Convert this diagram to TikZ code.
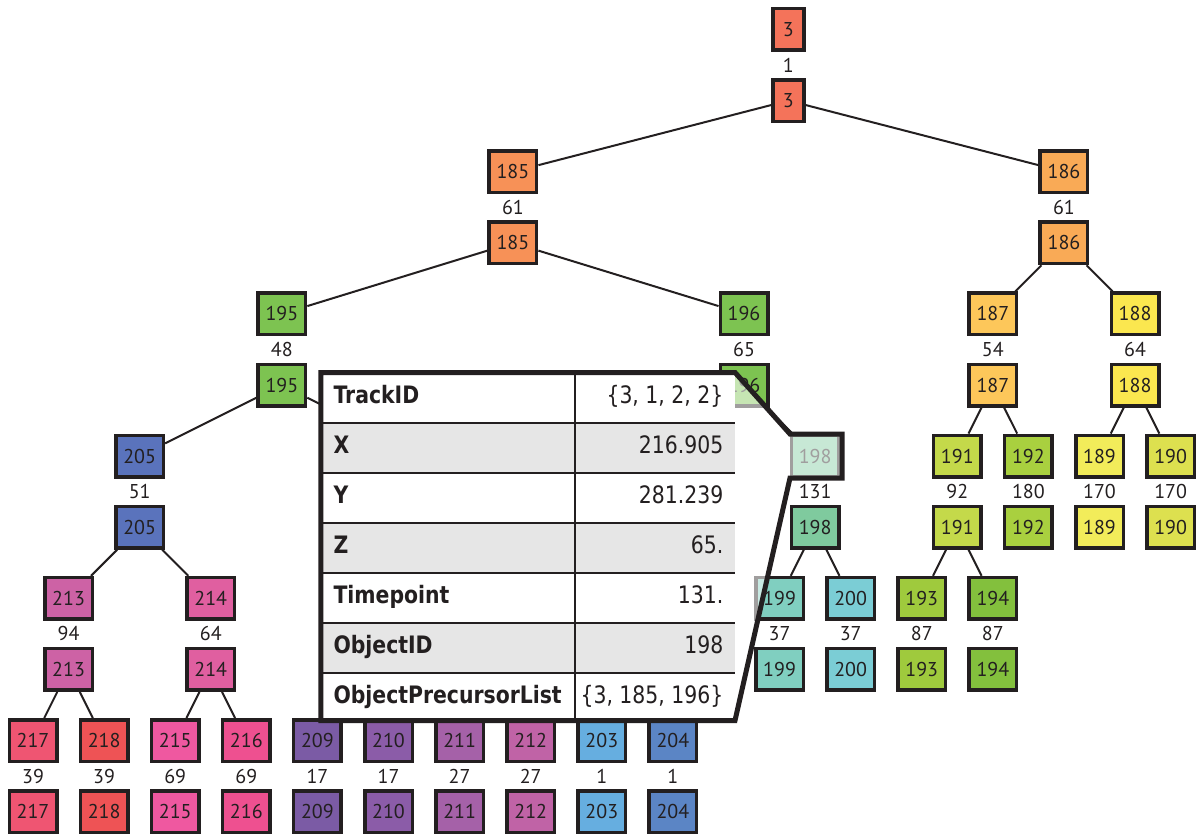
\documentclass[tikz,border=0pt]{standalone}
\usepackage{fontspec}
\setmainfont{PT Sans}
\newfontfamily\tabfont[FakeStretch=0.85]{DejaVu Sans}

\definecolor{ink}{HTML}{231F20}
\definecolor{rowgray}{HTML}{E6E6E6}
\definecolor{c3}{HTML}{F4735A}
\definecolor{c185}{HTML}{F79157}
\definecolor{c186}{HTML}{F9AA56}
\definecolor{c195}{HTML}{7DC351}
\definecolor{c187}{HTML}{FDC75A}
\definecolor{c188}{HTML}{FBE74F}
\definecolor{c191}{HTML}{C4D94A}
\definecolor{c192}{HTML}{A9D03F}
\definecolor{c189}{HTML}{F2EC5A}
\definecolor{c190}{HTML}{DDE04F}
\definecolor{c198}{HTML}{7FCA9E}
\definecolor{c199}{HTML}{80CFC0}
\definecolor{c200}{HTML}{7BCDD5}
\definecolor{c193}{HTML}{9FCA3D}
\definecolor{c194}{HTML}{83C03D}
\definecolor{c205}{HTML}{5A73BC}
\definecolor{c213}{HTML}{CD62A5}
\definecolor{c214}{HTML}{E05FA0}
\definecolor{c217}{HTML}{EF5572}
\definecolor{c218}{HTML}{EE5355}
\definecolor{c215}{HTML}{EF58A0}
\definecolor{c216}{HTML}{EE5090}
\definecolor{c209}{HTML}{7B5BA5}
\definecolor{c210}{HTML}{8B5CA8}
\definecolor{c211}{HTML}{A561A8}
\definecolor{c212}{HTML}{C063A6}
\definecolor{c203}{HTML}{66AEE0}
\definecolor{c204}{HTML}{5B85C5}

\tikzset{
  trackbox/.style={draw=ink, line width=3.5pt, minimum width=47.5pt,
    minimum height=41.5pt, inner sep=0pt, text=ink,
    font=\fontsize{20}{20}\selectfont},
  narrowbox/.style={minimum width=30.8pt},
  durlbl/.style={inner sep=0pt, text=ink, font=\fontsize{20}{20}\selectfont},
  link/.style={draw=ink, line width=2pt},
  keytext/.style={inner sep=0pt, anchor=base west, text=ink,
    font=\tabfont\bfseries\fontsize{24}{24}\selectfont},
  valtext/.style={inner sep=0pt, anchor=base east, text=ink,
    font=\tabfont\fontsize{24}{24}\selectfont},
  rule/.style={draw=ink, line width=2pt},
}

% one track segment: start box, duration, end box
% #1 extra style, #2 id, #3 column slot, #4 row of start box, #5 duration, #6 colour
\newcommand\trackpair[6][]{%
  \node[trackbox, fill=#6, #1] (t#2a) at ({33+35.55*#3}, {29.5+71.1*#4}) {#2};
  \node[trackbox, fill=#6, #1] (t#2b) at ({33+35.55*#3}, {29.5+71.1*(#4+1)}) {#2};
  \node[durlbl] (t#2d) at ({33+35.55*#3}, {29.5+71.1*(#4+0.5)}) {#5};
}

\begin{document}
\begin{tikzpicture}[x=1pt, y=-1pt]
\useasboundingbox (0,0) rectangle (1196,834);

% lineage tree
\trackpair[narrowbox]{3}{21.25}{0}{1}{c3}
\trackpair{185}{13.5}{2}{61}{c185}
\trackpair{186}{29}{2}{61}{c186}
\trackpair{195}{7}{4}{48}{c195}
\trackpair{196}{20}{4}{65}{c195}
\trackpair{187}{27}{4}{54}{c187}
\trackpair{188}{31}{4}{64}{c188}
\trackpair{205}{3}{6}{51}{c205}
\trackpair{198}{22}{6}{131}{c198}
\trackpair{191}{26}{6}{92}{c191}
\trackpair{192}{28}{6}{180}{c192}
\trackpair{189}{30}{6}{170}{c189}
\trackpair{190}{32}{6}{170}{c190}
\trackpair{213}{1}{8}{94}{c213}
\trackpair{214}{5}{8}{64}{c214}
\trackpair{199}{21}{8}{37}{c199}
\trackpair{200}{23}{8}{37}{c200}
\trackpair{193}{25}{8}{87}{c193}
\trackpair{194}{27}{8}{87}{c194}
\trackpair{217}{0}{10}{39}{c217}
\trackpair{218}{2}{10}{39}{c218}
\trackpair{215}{4}{10}{69}{c215}
\trackpair{216}{6}{10}{69}{c216}
\trackpair{209}{8}{10}{17}{c209}
\trackpair{210}{10}{10}{17}{c210}
\trackpair{211}{12}{10}{27}{c211}
\trackpair{212}{14}{10}{27}{c212}
\trackpair{203}{16}{10}{1}{c203}
\trackpair{204}{18}{10}{1}{c204}

\coordinate (h195) at ({33+35.55*11}, {29.5+71.1*6});

% divisions
\draw[link] (t3b) -- (t185a);
\draw[link] (t3b) -- (t186a);
\draw[link] (t185b) -- (t195a);
\draw[link] (t185b) -- (t196a);
\draw[link] (t186b) -- (t187a);
\draw[link] (t186b) -- (t188a);
\draw[link] (t195b) -- (t205a);
\draw[link] (t195b) -- (h195);
\draw[link] (t196b) -- (t198a);
\draw[link] (t187b) -- (t191a);
\draw[link] (t187b) -- (t192a);
\draw[link] (t188b) -- (t189a);
\draw[link] (t188b) -- (t190a);
\draw[link] (t205b) -- (t213a);
\draw[link] (t205b) -- (t214a);
\draw[link] (t198b) -- (t199a);
\draw[link] (t198b) -- (t200a);
\draw[link] (t191b) -- (t193a);
\draw[link] (t191b) -- (t194a);
\draw[link] (t213b) -- (t217a);
\draw[link] (t213b) -- (t218a);
\draw[link] (t214b) -- (t215a);
\draw[link] (t214b) -- (t216a);

% callout veil over the selected object
\fill[white, fill opacity=0.57] (735,372.5) -- (790,434) -- (842,434)
  -- (842,478) -- (790,478) -- (735,720.5) -- cycle;

% property table
\foreach \r/\c in {0/white,1/rowgray,2/white,3/rowgray,4/white,5/rowgray,6/white}
  \fill[\c] (320.8,{372.7+50*\r}) rectangle (735,{min(372.7+50*(\r+1),720.5)});
\foreach \r in {1,...,6}
  \draw[rule] (320.8,{372.7+50*\r}) -- (735,{372.7+50*\r});
\draw[rule] (575.3,372.5) -- (575.3,720.5);

\node[keytext] (k0) at (333.3,403.2) {TrackID};
\node[keytext] (k1) at (333.3,453.2) {X};
\node[keytext] (k2) at (333.3,503.2) {Y};
\node[keytext] (k3) at (333.3,553.2) {Z};
\node[keytext] (k4) at (333.3,603.2) {Timepoint};
\node[keytext] (k5) at (333.3,653.2) {ObjectID};
\node[keytext] (k6) at (333.3,703.2) {ObjectPrecursorList};

\node[valtext] (v0) at (723.5,403.2) {\{3, 1, 2, 2\}};
\node[valtext] (v1) at (723.5,453.2) {216.905};
\node[valtext] (v2) at (723.5,503.2) {281.239};
\node[valtext] (v3) at (723.5,553.2) {65.};
\node[valtext] (v4) at (723.5,603.2) {131.};
\node[valtext] (v5) at (723.5,653.2) {198};
\node[valtext] (v6) at (723.5,703.2) {\{3, 185, 196\}};

% outline of table and callout
\draw[ink, line width=5pt, line join=miter] (320.8,372.5) -- (735,372.5)
  -- (790,434) -- (842,434) -- (842,478) -- (790,478) -- (735,720.5)
  -- (320.8,720.5) -- cycle;
\end{tikzpicture}
\end{document}
